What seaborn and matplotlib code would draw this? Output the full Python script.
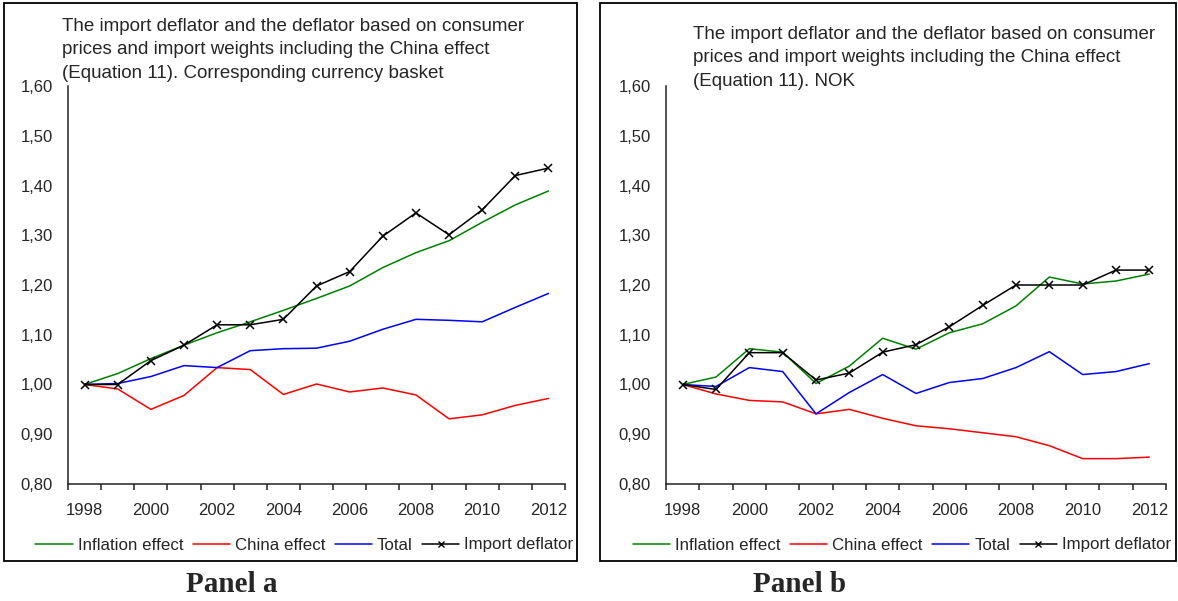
import matplotlib
matplotlib.use("Agg")
import matplotlib.pyplot as plt
import seaborn as sns
import numpy as np
import pandas as pd
from matplotlib.ticker import FixedLocator, FuncFormatter
from matplotlib.patches import Rectangle
from matplotlib.lines import Line2D

years = list(range(1998, 2013))

a_inflation = [1.000, 1.022, 1.052, 1.079, 1.104, 1.126, 1.149, 1.173, 1.198, 1.235, 1.265, 1.289, 1.326, 1.361, 1.389]
a_china = [1.000, 0.991, 0.950, 0.978, 1.034, 1.030, 0.980, 1.001, 0.985, 0.993, 0.979, 0.931, 0.939, 0.958, 0.972]
a_total = [1.000, 1.002, 1.016, 1.038, 1.034, 1.068, 1.072, 1.073, 1.087, 1.111, 1.131, 1.129, 1.126, 1.155, 1.183]
a_import = [1.000, 1.000, 1.048, 1.079, 1.120, 1.120, 1.131, 1.198, 1.227, 1.298, 1.345, 1.301, 1.351, 1.420, 1.435]

b_inflation = [1.000, 1.015, 1.072, 1.065, 1.002, 1.037, 1.093, 1.071, 1.104, 1.122, 1.158, 1.216, 1.202, 1.208, 1.222]
b_china = [1.000, 0.981, 0.968, 0.965, 0.941, 0.950, 0.932, 0.917, 0.911, 0.903, 0.895, 0.877, 0.851, 0.851, 0.854]
b_total = [1.000, 0.996, 1.034, 1.026, 0.941, 0.984, 1.020, 0.982, 1.004, 1.012, 1.034, 1.066, 1.020, 1.026, 1.042]
b_import = [1.000, 0.990, 1.064, 1.064, 1.009, 1.023, 1.065, 1.080, 1.116, 1.159, 1.200, 1.200, 1.200, 1.230, 1.230]

series_names = ["Inflation effect", "China effect", "Total", "Import deflator"]
series_colors = ["#008000", "#FF0000", "#0000FF", "#000000"]
x_tick_labels = ["1998", "2000", "2002", "2004", "2006", "2008", "2010", "2012"]
y_ticks = [0.80, 0.90, 1.00, 1.10, 1.20, 1.30, 1.40, 1.50, 1.60]

title_a = ("The import deflator and the deflator based on consumer\n"
           "prices and import weights including the China effect\n"
           "(Equation 11). Corresponding currency basket")
title_b = ("The import deflator and the deflator based on consumer\n"
           "prices and import weights including the China effect\n"
           "(Equation 11). NOK")

sns.set_style("white")
plt.rcParams['font.family'] = ['Liberation Sans', 'DejaVu Sans']
plt.rcParams['font.size'] = 12

W, H = 1178, 601
fig = plt.figure(figsize=(W / 100, H / 100), dpi=100)


def px_axes(x0, x1, y0, y1):
    return fig.add_axes([x0 / W, 1 - y1 / H, (x1 - x0) / W, (y1 - y0) / H])


def draw_panel(ax, data, title, title_xy, frame, legend_y, panel_label, panel_x):
    df = pd.DataFrame({"year": years * 4,
                       "value": sum(data, []),
                       "series": sum([[n] * len(years) for n in series_names], [])})
    for name, color in zip(series_names, series_colors):
        sub = df[df["series"] == name]
        if name == "Import deflator":
            sns.lineplot(data=sub, x="year", y="value", ax=ax, color=color, lw=1.1,
                         marker="x", markersize=6, markeredgewidth=1.1,
                         markeredgecolor=color, legend=False)
        else:
            sns.lineplot(data=sub, x="year", y="value", ax=ax, color=color, lw=1.1,
                         legend=False)
    ax.set_xlim(1997.5, 2012.5)
    ax.set_ylim(0.80, 1.60)
    ax.set_xlabel("")
    ax.set_ylabel("")
    for s in ["top", "right"]:
        ax.spines[s].set_visible(False)
    for s in ["left", "bottom"]:
        ax.spines[s].set_linewidth(1.1)
        ax.spines[s].set_color("#222222")
    ax.yaxis.set_major_locator(FixedLocator(y_ticks))
    ax.yaxis.set_major_formatter(FuncFormatter(lambda v, p: f"{v:.2f}".replace(".", ",")))
    ax.xaxis.set_major_locator(FixedLocator([int(t) for t in x_tick_labels]))
    ax.set_xticklabels(x_tick_labels)
    ax.xaxis.set_minor_locator(FixedLocator(np.arange(1997.5, 2013.0, 1.0)))
    ax.tick_params(axis="y", which="major", direction="out", length=4, width=1.1,
                   color="#222222", pad=7, labelsize=12)
    ax.tick_params(axis="x", which="major", length=0, pad=14, labelsize=12)
    ax.tick_params(axis="x", which="minor", direction="out", length=4, width=1.1,
                   color="#222222", bottom=True)
    ax.patch.set_alpha(0)

    fig.text(title_xy[0] / W, 1 - title_xy[1] / H, title, ha="left", va="top",
             fontsize=13.5, linespacing=1.5)

    x0, y0, x1, y1 = frame
    fig.patches.append(Rectangle((x0 / W, 1 - y1 / H), (x1 - x0) / W, (y1 - y0) / H,
                                 transform=fig.transFigure, fill=False,
                                 edgecolor="black", lw=1.3, zorder=0))

    handles = []
    for name, color in zip(series_names, series_colors):
        if name == "Import deflator":
            handles.append(Line2D([], [], color=color, lw=1.1, marker="x",
                                  markersize=5, markeredgewidth=1.0))
        else:
            handles.append(Line2D([], [], color=color, lw=1.1))
    fig.legend(handles, series_names, loc="center",
               bbox_to_anchor=(((x0 + x1) / 2 + 14) / W, 1 - legend_y / H),
               ncol=4, frameon=False, fontsize=12.2, handlelength=2.2,
               handletextpad=0.3, columnspacing=0.55, borderaxespad=0)

    fig.text(panel_x / W, 1 - 585 / H, panel_label, ha="center", va="center",
             fontsize=21, fontweight="bold", family=["Liberation Serif", "DejaVu Serif"])


ax_a = px_axes(68, 565, 86, 484)
ax_b = px_axes(666, 1166, 86, 484)

draw_panel(ax_a, [a_inflation, a_china, a_total, a_import], title_a, (62, 18),
           (4, 3, 577, 561), 545, "Panel a", 232)
draw_panel(ax_b, [b_inflation, b_china, b_total, b_import], title_b, (693, 26),
           (600, 3, 1176, 561), 545, "Panel b", 800)

fig.savefig("out.png", dpi=100)
